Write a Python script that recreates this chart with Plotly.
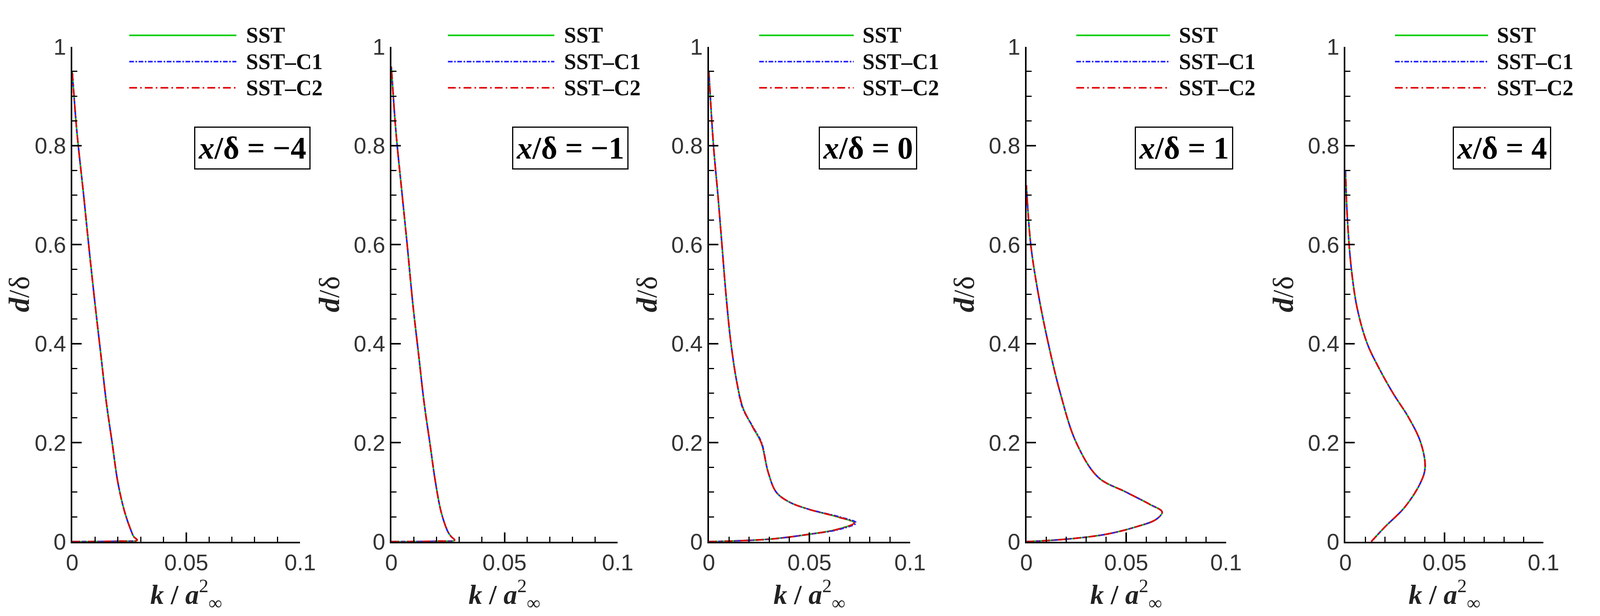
import plotly.graph_objects as go

series_names = ["SST", "SST\u2013C1", "SST\u2013C2"]
series_colors = ["#00cc00", "#2020ff", "#e00000"]
series_dash = ["solid", "dashdot", "longdashdot"]
panel_labels = ["\u22124", "\u22121", "0", "1", "4"]

d1 = [0, 0.001, 0.003, 0.01, 0.02, 0.06, 0.12, 0.2, 0.28, 0.38, 0.48, 0.6, 0.7, 0.83, 0.95]
k1 = [0, 0.02, 0.0285, 0.027, 0.026, 0.023, 0.020, 0.0175, 0.015, 0.0125, 0.010, 0.0072, 0.005, 0.002, 0]
d2 = [0, 0.001, 0.003, 0.01, 0.02, 0.06, 0.12, 0.2, 0.28, 0.38, 0.48, 0.6, 0.7, 0.83, 0.96]
k2 = [0, 0.02, 0.028, 0.0265, 0.025, 0.022, 0.0195, 0.017, 0.0145, 0.012, 0.0095, 0.007, 0.0048, 0.002, 0]
d3 = [0, 0.005, 0.015, 0.025, 0.038, 0.05, 0.065, 0.08, 0.1, 0.14, 0.2, 0.23, 0.27, 0.32, 0.4, 0.5, 0.6, 0.7, 0.8, 0.95]
k3 = [0, 0.03, 0.05, 0.064, 0.0722, 0.064, 0.05, 0.04, 0.0335, 0.0295, 0.026, 0.022, 0.017, 0.014, 0.011, 0.0085, 0.0065, 0.0045, 0.0023, 0]
k3_c1 = [0, 0.03, 0.05, 0.065, 0.0732, 0.065, 0.05, 0.04, 0.0335, 0.0295, 0.0262, 0.0222, 0.0168, 0.014, 0.011, 0.0085, 0.0065, 0.0045, 0.0023, 0]
d4 = [0, 0.005, 0.015, 0.03, 0.045, 0.06, 0.075, 0.1, 0.13, 0.2, 0.3, 0.4, 0.5, 0.6, 0.72]
k4 = [0, 0.02, 0.04, 0.055, 0.065, 0.068, 0.062, 0.05, 0.036, 0.025, 0.017, 0.011, 0.006, 0.0022, 0]
d5 = [0, 0.03, 0.07, 0.12, 0.15, 0.2, 0.25, 0.3, 0.35, 0.4, 0.47, 0.55, 0.65, 0.75]
k5 = [0.013, 0.02, 0.03, 0.038, 0.0402, 0.038, 0.032, 0.024, 0.017, 0.011, 0.006, 0.003, 0.001, 0]

panels = [
    (d1, [k1, k1, k1]),
    (d2, [k2, k2, k2]),
    (d3, [k3, k3_c1, k3]),
    (d4, [k4, k4, k4]),
    (d5, [k5, k5, k5]),
]

domains = [(0.040, 0.185), (0.243, 0.387), (0.445, 0.573), (0.647, 0.774), (0.850, 0.976)]
ydom = (0.110, 0.948)
SERIF = "Times New Roman, Liberation Serif"

def px(i, v):
    a, b = domains[i]
    return a + (b - a) * v / 0.1

def py(v):
    return ydom[0] + (ydom[1] - ydom[0]) * v

fig = go.Figure()
shapes, annots = [], []
for i, (dd, ks) in enumerate(panels):
    n = "" if i == 0 else str(i + 1)
    xa, ya = "x" + n, "y" + n
    for j in range(3):
        fig.add_trace(go.Scatter(x=ks[j], y=dd, mode="lines", xaxis=xa, yaxis=ya, showlegend=False,
                                 line=dict(color=series_colors[j], dash=series_dash[j], width=4, shape="spline")))
    axx = dict(domain=domains[i], range=[0, 0.1], anchor=ya, showgrid=False, zeroline=False,
               showline=True, linecolor="black", linewidth=4, ticks="inside", ticklen=24, tickwidth=4,
               tickcolor="black", tickvals=[0, 0.05, 0.1], ticktext=["0", "0.05", "0.1"],
               minor=dict(dtick=0.01, ticks="inside", ticklen=13, tickwidth=3, tickcolor="black"),
               tickfont=dict(family="Arial", size=58, color="#333"),
               title=dict(text="<b><i>k</i> / <i>a</i></b><sup>2</sup><sub>\u221e</sub>",
                          font=dict(family=SERIF, size=70, color="#222"), standoff=8))
    axy = dict(domain=ydom, range=[0, 1], anchor=xa, showgrid=False, zeroline=False,
               showline=True, linecolor="black", linewidth=4, ticks="inside", ticklen=24, tickwidth=4,
               tickcolor="black", tickvals=[0, 0.2, 0.4, 0.6, 0.8, 1], ticktext=["0", "0.2", "0.4", "0.6", "0.8", "1"],
               minor=dict(dtick=0.05, ticks="inside", ticklen=13, tickwidth=3, tickcolor="black"),
               tickfont=dict(family="Arial", size=58, color="#333"),
               title=dict(text="<b><i>d</i></b>/\u03b4", font=dict(family=SERIF, size=74, color="#222"), standoff=14))
    fig.update_layout(**{"xaxis" + n: axx, "yaxis" + n: axy})
    for j in range(3):
        yy = py([1.023, 0.97, 0.917][j])
        shapes.append(dict(type="line", xref="paper", yref="paper", x0=px(i, 0.025), x1=px(i, 0.072), y0=yy, y1=yy,
                           line=dict(color=series_colors[j], dash=series_dash[j], width=4)))
        annots.append(dict(xref="paper", yref="paper", x=px(i, 0.076), y=yy, xanchor="left", yanchor="middle",
                           showarrow=False, text="<b>" + series_names[j] + "</b>",
                           font=dict(family=SERIF, size=56, color="#111")))
    annots.append(dict(xref="paper", yref="paper", x=px(i, 0.079), y=py(0.795), xanchor="center", yanchor="middle",
                       showarrow=False, text="<b><i>x</i>/\u03b4 = " + panel_labels[i] + "</b>",
                       bordercolor="black", borderwidth=3, borderpad=8, bgcolor="white",
                       font=dict(family=SERIF, size=80, color="black")))

fig.update_layout(autosize=True, paper_bgcolor="white", plot_bgcolor="white",
                  margin=dict(l=0, r=0, t=0, b=0), shapes=shapes, annotations=annots)
fig.write_html("out.html", default_height="100vh", default_width="100%")
